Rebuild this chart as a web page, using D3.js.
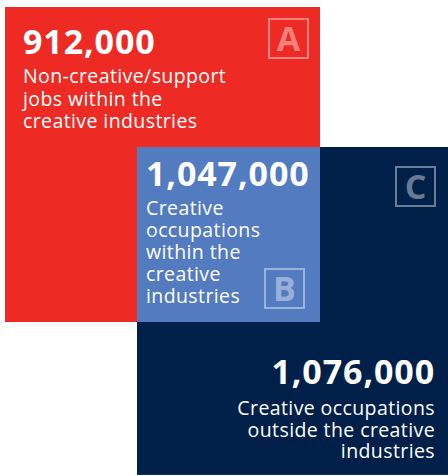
<!DOCTYPE html>
<html>
<head>
<meta charset="utf-8">
<script src="https://cdn.jsdelivr.net/npm/d3@7"></script>
<style>
  body { margin: 0; background: #fff; }
  svg { display: block; font-family: "Open Sans", sans-serif; }
</style>
</head>
<body>
<svg id="chart" width="448" height="476"></svg>
<script>
// jobs in the creative economy
const groups = ["A", "B", "C"];
const values = [912000, 1047000, 1076000];
const labels = [
	["Non-creative/support", "jobs within the", "creative industries"],
	["Creative", "occupations", "within the", "creative", "industries"],
	["Creative occupations", "outside the creative", "industries"],
];

const fmt = d3.format(",");
const svg = d3.select("#chart");

const colors = { A: "#ee2a24", B: "#537bc0", C: "#00204a" };

// square side ~ sqrt of the jobs it covers
const side = d3.scaleSqrt().domain([0, values[0] + values[1]]).range([0, 315]);

const redSide = side(values[0] + values[1]);
const navySide = side(values[1] + values[2]);

const red = { x: 5, y: 7, w: redSide, h: redSide };
const navy = { x: 137, y: 147, w: navySide, h: navySide };
const overlap = {
	x: navy.x,
	y: navy.y,
	w: red.x + red.w - navy.x,
	h: red.y + red.h - navy.y,
};

svg.selectAll("rect.sq")
	.data([
		{ r: red, c: colors.A },
		{ r: navy, c: colors.C },
		{ r: overlap, c: colors.B },
	])
	.enter()
	.append("rect")
	.attr("class", "sq")
	.attr("x", (d) => d.r.x)
	.attr("y", (d) => d.r.y)
	.attr("width", (d) => d.r.w)
	.attr("height", (d) => d.r.h)
	.attr("fill", (d) => d.c);

// text blocks
const blocks = [
	{ x: red.x + 18, y: 54, anchor: "start", lh: 22.5, gap: 29 },
	{ x: overlap.x + 9, y: 186, anchor: "start", lh: 22, gap: 29 },
	{ x: 435, y: 384, anchor: "end", lh: 21.5, gap: 31 },
];

groups.forEach((g, i) => {
	const b = blocks[i];
	const t = svg.append("g").attr("text-anchor", b.anchor).attr("fill", "#fff");
	t.append("text")
		.attr("x", b.x)
		.attr("y", b.y)
		.attr("font-size", 34)
		.attr("font-weight", 700)
		.attr("letter-spacing", 0.9)
		.text(fmt(values[i]));
	t.append("text")
		.attr("class", "lbl")
		.attr("y", b.y + b.gap)
		.attr("font-size", 19.5)
		.attr("letter-spacing", 0.4)
		.selectAll("tspan")
		.data(labels[i])
		.enter()
		.append("tspan")
		.attr("x", b.x)
		.attr("dy", (d, j) => (j ? b.lh : 0))
		.text((d) => d);
});

// letter badges
const badges = [
	{ l: "A", x: red.x + red.w - 51, y: 19 },
	{ l: "B", x: overlap.x + overlap.w - 55, y: 269 },
	{ l: "C", x: 396, y: 167 },
];
const bs = 39;
const badge = svg.selectAll("g.badge")
	.data(badges)
	.enter()
	.append("g")
	.attr("class", "badge")
	.attr("transform", (d) => `translate(${d.x},${d.y})`);
badge.append("rect")
	.attr("width", bs)
	.attr("height", bs)
	.attr("fill", "none")
	.attr("stroke", "#fff")
	.attr("stroke-opacity", 0.42)
	.attr("stroke-width", 2);
badge.append("text")
	.attr("x", bs / 2)
	.attr("y", bs / 2 + 12)
	.attr("text-anchor", "middle")
	.attr("font-size", 34)
	.attr("font-weight", 700)
	.attr("fill", "#fff")
	.attr("fill-opacity", 0.42)
	.text((d) => d.l);
</script>
</body>
</html>
